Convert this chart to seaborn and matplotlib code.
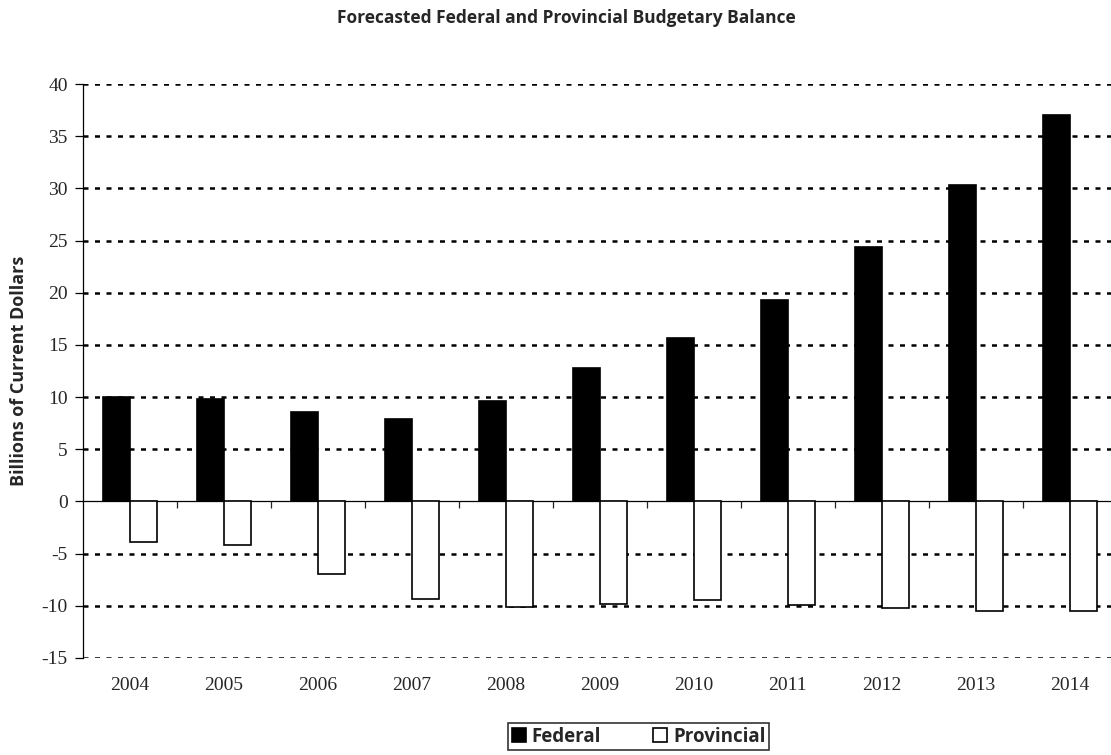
import pandas as pd
import seaborn as sns
import matplotlib.pyplot as plt

years = ["2004", "2005", "2006", "2007", "2008", "2009", "2010", "2011", "2012", "2013", "2014"]
federal = [10.0, 9.8, 8.6, 7.9, 9.6, 12.8, 15.7, 19.3, 24.4, 30.3, 37.0]
provincial = [-3.9, -4.2, -7.0, -9.3, -10.1, -9.8, -9.4, -9.9, -10.2, -10.5, -10.5]
series = ["Federal", "Provincial"]
y_ticks = list(range(-15, 41, 5))

df = pd.DataFrame({
    "year": years * 2,
    "value": federal + provincial,
    "series": [series[0]] * len(years) + [series[1]] * len(years),
})

sns.set_style("white")
serif = "Liberation Serif"
sans = "Open Sans"

fig = plt.figure(figsize=(11.11, 7.55), dpi=100)
ax = fig.add_axes([0.0747, 0.1285, 0.9303, 0.7602])

sns.barplot(data=df, x="year", y="value", hue="series", order=years, hue_order=series,
            palette={"Federal": "black", "Provincial": "white"}, edgecolor="black",
            linewidth=1.2, width=0.575, ax=ax)
ax.get_legend().remove()

ax.set_ylim(-15, 40)
ax.set_xlim(-0.5, len(years) - 0.5)
ax.set_yticks(y_ticks)
ax.set_yticklabels([str(t) for t in y_ticks], fontfamily=serif, fontsize=14)
for t in y_ticks:
    if t != 0:
        ax.axhline(t, color="black", linestyle=(0, (2.0, 2.6)), linewidth=1.8, zorder=0)

for side in ["top", "right", "bottom"]:
    ax.spines[side].set_visible(False)
ax.spines["left"].set_color("black")
ax.spines["left"].set_linewidth(0.9)
ax.tick_params(axis="y", direction="out", length=6, width=0.9, color="black", left=True, pad=5)

# category labels along the bottom
ax.tick_params(axis="x", length=0, pad=14)
ax.set_xticks(range(len(years)))
ax.set_xticklabels(years, fontfamily=serif, fontsize=14)

# zero line with boundary ticks
zero = ax.secondary_xaxis(15 / 55)
zero.spines["bottom"].set_color("black")
zero.spines["bottom"].set_linewidth(0.9)
zero.set_xticks([i + 0.5 for i in range(len(years) - 1)])
zero.tick_params(axis="x", direction="out", length=5, width=0.9, labelbottom=False)

ax.set_xlabel("")
ax.set_ylabel("Billions of Current Dollars", fontfamily=sans, fontweight="bold", fontsize=13, labelpad=10)

fig.suptitle("Forecasted Federal and Provincial Budgetary Balance", fontfamily=sans,
             fontweight="bold", fontsize=12.5, x=0.51, y=0.988)

handles = [ax.containers[0].patches[0], ax.containers[1].patches[0]]
leg = fig.legend(handles, series, loc="center", bbox_to_anchor=(0.5747, 0.0245), ncol=2,
                 frameon=True, fancybox=False, edgecolor="black", handlelength=0.75,
                 handleheight=0.75, handletextpad=0.3, columnspacing=2.8,
                 borderpad=0.2, prop={"family": sans, "weight": "bold", "size": 13.5})
leg.get_frame().set_linewidth(1.2)

fig.savefig("out.png", dpi=100)
